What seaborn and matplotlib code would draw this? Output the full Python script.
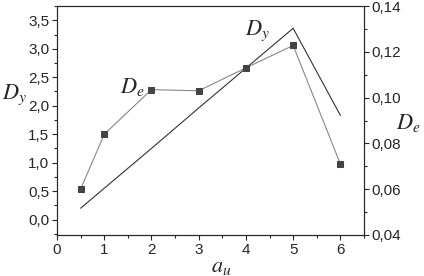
import matplotlib
matplotlib.use('Agg')
import matplotlib.pyplot as plt
import seaborn as sns
import pandas as pd
from matplotlib.ticker import MultipleLocator, FuncFormatter

# data
a_u = [0.5, 1, 2, 3, 4, 5, 6]
d_y = [0.2, 0.55, 1.25, 1.96, 2.66, 3.36, 1.83]
d_e = [0.060, 0.084, 0.1035, 0.103, 0.113, 0.1228, 0.071]

df = pd.DataFrame({'a_u': a_u, 'D_y': d_y, 'D_e': d_e})

sns.set_style('ticks')
plt.rcParams['font.family'] = ['Liberation Sans', 'DejaVu Sans']
plt.rcParams['mathtext.fontset'] = 'stix'

fig = plt.figure(figsize=(4.24, 2.76), dpi=100)
ax = fig.add_axes([0.1344, 0.1486, 0.7241, 0.8294])
ax2 = ax.twinx()

sns.lineplot(data=df, x='a_u', y='D_y', ax=ax, color='#333333', lw=0.8)
sns.lineplot(data=df, x='a_u', y='D_e', ax=ax2, color='#888888', lw=0.8,
             marker='s', markersize=4, markerfacecolor='#444444',
             markeredgecolor='#444444')

ax.set_xlim(0, 6.5)
ax.set_ylim(-0.27, 3.75)
ax2.set_ylim(0.04, 0.14)

comma = FuncFormatter(lambda v, p: f'{v:.1f}'.replace('.', ','))
comma2 = FuncFormatter(lambda v, p: f'{v:.2f}'.replace('.', ','))
ax.xaxis.set_major_locator(MultipleLocator(1))
ax.xaxis.set_minor_locator(MultipleLocator(0.5))
ax.xaxis.set_major_formatter(FuncFormatter(lambda v, p: f'{v:.0f}'))
ax.yaxis.set_major_locator(MultipleLocator(0.5))
ax.yaxis.set_minor_locator(MultipleLocator(0.25))
ax.yaxis.set_major_formatter(comma)
ax2.yaxis.set_major_locator(MultipleLocator(0.02))
ax2.yaxis.set_minor_locator(MultipleLocator(0.01))
ax2.yaxis.set_major_formatter(comma2)

for a in (ax, ax2):
    a.tick_params(which='major', length=3.5, width=0.8, labelsize=11, pad=2)
    a.tick_params(which='minor', length=2, width=0.8)
    for s in a.spines.values():
        s.set_visible(True)
        s.set_linewidth(0.8)
    a.set_xlabel('')
    a.set_ylabel('')

ax.text(1.33, 2.22, r'$D_e$', fontsize=16, ha='left', va='baseline')
ax.text(3.98, 3.25, r'$D_y$', fontsize=16, ha='left', va='baseline')

fig.text(0.035, 0.655, r'$D_y$', fontsize=16, ha='center', va='center')
fig.text(0.962, 0.555, r'$D_e$', fontsize=16, ha='center', va='center')
fig.text(0.523, 0.035, r'$a_u$', fontsize=16, ha='center', va='center')

fig.savefig('out.png', dpi=100)
